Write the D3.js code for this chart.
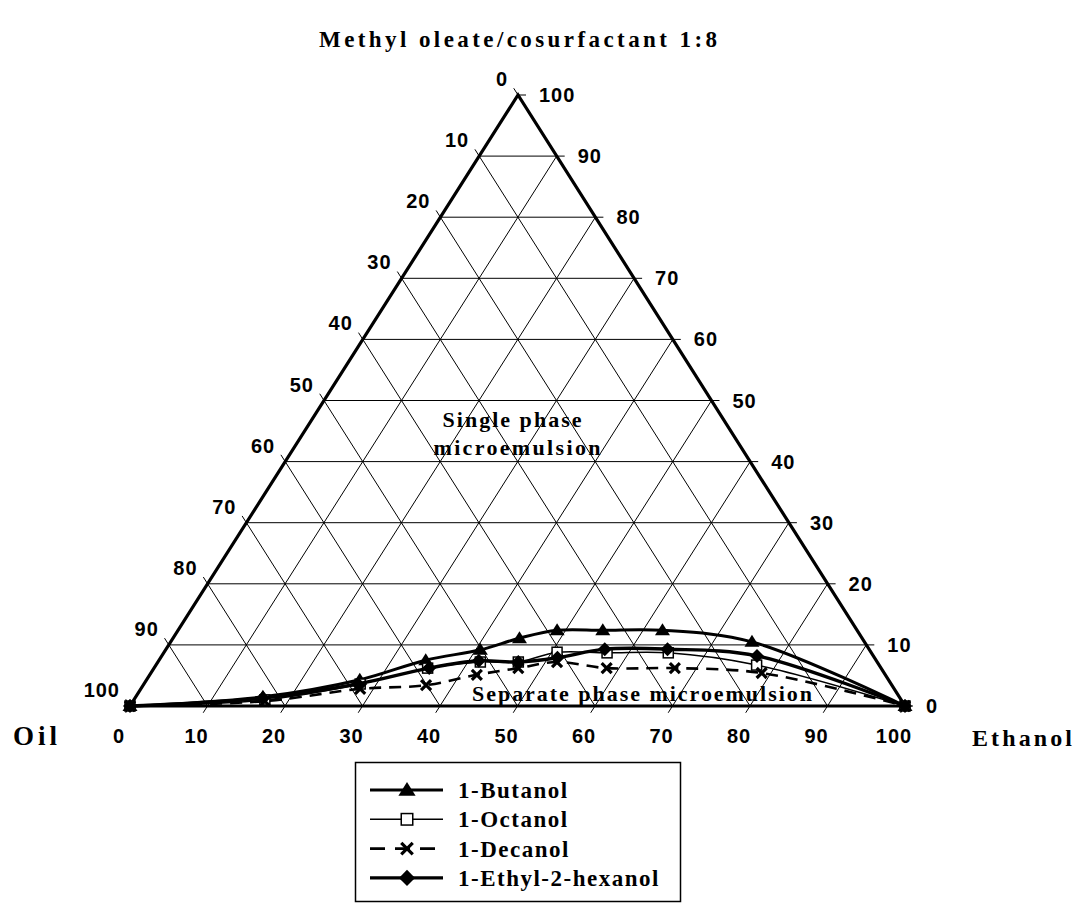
<!DOCTYPE html>
<html>
<head>
<title>Ternary phase diagram</title>
<script src="https://d3js.org/d3.v7.min.js"></script>
<style>
body { margin: 0; background: #fff; }
</style>
</head>
<body>
<div id="chart"></div>
<script>
// compositions: ethanol %, surfactant % (oil = rest)
var butanolEth = [0, 16.4, 27.5, 34.4, 40.6, 44.7, 48.9, 54.8, 62.5, 75.0, 100];
var butanolSurf = [0, 1.5, 4.3, 7.5, 9.2, 11.1, 12.4, 12.4, 12.4, 10.5, 0];
var octanolEth = [0, 16.9, 27.9, 35.3, 41.6, 46.5, 50.7, 57.2, 65.1, 77.5, 100];
var octanolSurf = [0, 1.0, 3.6, 6.2, 7.2, 7.2, 8.8, 8.7, 8.7, 6.7, 0];
var decanolEth = [0, 17.0, 28.3, 36.5, 42.2, 47.0, 51.5, 58.4, 67.2, 78.8, 100];
var decanolSurf = [0, 0.8, 2.8, 3.4, 5.1, 6.2, 7.2, 6.2, 6.2, 5.4, 0];
var ethylhexEth = [0, 16.5, 27.6, 35.5, 41.3, 46.5, 51.2, 56.6, 64.7, 76.8, 100];
var ethylhexSurf = [0, 1.3, 3.6, 6.2, 7.4, 7.2, 7.9, 9.3, 9.3, 8.2, 0];

var seriesNames = ["1-Butanol", "1-Octanol", "1-Decanol", "1-Ethyl-2-hexanol"];
var ticks = [0, 10, 20, 30, 40, 50, 60, 70, 80, 90, 100];

var W = 1078, H = 903;
var baseL = 130, baseR = 905, apexX = 518, baseY = 706, apexY = 95;

var svg = d3.select("#chart").append("svg").attr("width", W).attr("height", H);

// ethanol runs along the base, surfactant lifts the point and shifts it toward the apex
var eScale = d3.scaleLinear().domain([0, 100]).range([baseL, baseR]);
var sShift = d3.scaleLinear().domain([0, 100]).range([0, apexX - baseL]);
var sScale = d3.scaleLinear().domain([0, 100]).range([baseY, apexY]);

function px(e, s) { return eScale(e) + sShift(s); }
function py(e, s) { return sScale(s); }

var grid = svg.append("g").attr("stroke", "#000").attr("stroke-width", 1).attr("fill", "none");
var tk = 8;
var rdx = apexX - baseR, rdy = apexY - baseY;
var lenR = Math.sqrt(rdx * rdx + rdy * rdy);
var dirOil = [rdx / lenR, rdy / lenR];
var ldx = apexX - baseL, ldy = apexY - baseY;
var lenL = Math.sqrt(ldx * ldx + ldy * ldy);
var dirEth = [ldx / lenL, ldy / lenL];

ticks.forEach(function(t) {
  // constant surfactant: horizontal, tick out past right side
  grid.append("line")
    .attr("x1", px(0, t)).attr("y1", py(0, t))
    .attr("x2", px(100 - t, t) + tk).attr("y2", py(100 - t, t));
  // constant ethanol: parallel to left side, tick below base
  grid.append("line")
    .attr("x1", px(t, 0) - dirEth[0] * tk).attr("y1", py(t, 0) - dirEth[1] * tk)
    .attr("x2", px(t, 100 - t)).attr("y2", py(t, 100 - t));
  // constant oil: parallel to right side, tick out past left side
  grid.append("line")
    .attr("x1", px(100 - t, 0)).attr("y1", py(100 - t, 0))
    .attr("x2", px(0, 100 - t) + dirOil[0] * tk).attr("y2", py(0, 100 - t) + dirOil[1] * tk);
});

svg.append("path")
  .attr("d", "M" + px(0, 0) + "," + py(0, 0) + "L" + px(100, 0) + "," + py(100, 0) + "L" + px(0, 100) + "," + py(0, 100) + "Z")
  .attr("fill", "none").attr("stroke", "#000").attr("stroke-width", 3.2).attr("stroke-linejoin", "miter");

var tickFont = "'Liberation Sans', Arial, sans-serif";
var serif = "'Liberation Serif', 'Times New Roman', serif";

function tickText(sel) {
  return sel.style("font-family", tickFont).style("font-weight", "bold")
    .style("font-size", "20px").style("letter-spacing", "1px");
}

// left labels: oil
tickText(svg.selectAll(".lt").data(ticks).enter().append("text"))
  .attr("x", function(d) { return px(0, 100 - d) - 10; })
  .attr("y", function(d) { return py(0, 100 - d) - 9; })
  .attr("text-anchor", "end")
  .text(function(d) { return d; });

// right labels: surfactant
tickText(svg.selectAll(".rt").data(ticks).enter().append("text"))
  .attr("x", function(d) { return px(100 - d, d) + 21; })
  .attr("y", function(d) { return py(100 - d, d) + 7; })
  .attr("text-anchor", "start")
  .text(function(d) { return d; });

// bottom labels: ethanol
tickText(svg.selectAll(".bt").data(ticks).enter().append("text"))
  .attr("x", function(d) { return px(d, 0) - 11; })
  .attr("y", baseY + 37)
  .attr("text-anchor", "middle")
  .text(function(d) { return d; });

function serifText(x, y, size, len, str, anchor) {
  var t = svg.append("text").attr("x", x).attr("y", y).attr("text-anchor", anchor || "middle")
    .style("font-family", serif).style("font-weight", "bold").style("font-size", size + "px")
    .text(str);
  if (len) t.attr("textLength", len).attr("lengthAdjust", "spacing");
  return t;
}

serifText(518, 47, 23, 398, "Methyl oleate/cosurfactant 1:8");
serifText(13, 745, 27, 44, "Oil", "start");
serifText(972, 746, 24, 100, "Ethanol", "start");
serifText(512, 427, 22, 139, "Single phase");
serifText(517, 455, 22, 167, "microemulsion");
serifText(642, 701, 22, 340, "Separate phase microemulsion");

var series = [
  { name: seriesNames[0], eth: butanolEth, surf: butanolSurf, width: 3, dash: null, marker: "tri" },
  { name: seriesNames[1], eth: octanolEth, surf: octanolSurf, width: 1.5, dash: null, marker: "sq" },
  { name: seriesNames[2], eth: decanolEth, surf: decanolSurf, width: 2.6, dash: "12,8", marker: "x" },
  { name: seriesNames[3], eth: ethylhexEth, surf: ethylhexSurf, width: 3.4, dash: null, marker: "dia" }
];

var line = d3.line().curve(d3.curveCatmullRom.alpha(0.5));

function drawMarker(g, type, x, y, k) {
  if (type === "tri") {
    g.append("path").attr("d", "M" + x + "," + (y - 7 * k) + "L" + (x + 7.5 * k) + "," + (y + 5 * k) + "L" + (x - 7.5 * k) + "," + (y + 5 * k) + "Z")
      .attr("fill", "#000");
  } else if (type === "sq") {
    var h = 5 * k;
    g.append("rect").attr("x", x - h).attr("y", y - h).attr("width", 2 * h).attr("height", 2 * h)
      .attr("fill", "#fff").attr("stroke", "#000").attr("stroke-width", 1.5);
  } else if (type === "x") {
    var c = 5 * k;
    g.append("path").attr("d", "M" + (x - c) + "," + (y - c) + "L" + (x + c) + "," + (y + c) + "M" + (x + c) + "," + (y - c) + "L" + (x - c) + "," + (y + c))
      .attr("stroke", "#000").attr("stroke-width", 3.2).attr("fill", "none");
  } else {
    g.append("path").attr("d", "M" + x + "," + (y - 7 * k) + "L" + (x + 7 * k) + "," + y + "L" + x + "," + (y + 7 * k) + "L" + (x - 7 * k) + "," + y + "Z")
      .attr("fill", "#000");
  }
}

series.forEach(function(s) {
  var pts = s.eth.map(function(e, i) { return [px(e, s.surf[i]), py(e, s.surf[i])]; });
  svg.append("path").attr("d", line(pts))
    .attr("fill", "none").attr("stroke", "#000").attr("stroke-width", s.width)
    .attr("stroke-dasharray", s.dash);
  var g = svg.append("g");
  pts.forEach(function(p) { drawMarker(g, s.marker, p[0], p[1], 1); });
});

// legend
var lg = svg.append("g");
lg.append("rect").attr("x", 355.5).attr("y", 762.5).attr("width", 325).attr("height", 139)
  .attr("fill", "#fff").attr("stroke", "#000").attr("stroke-width", 1.5);
series.forEach(function(s, i) {
  var y = 790 + i * 29.3;
  lg.append("line").attr("x1", 370).attr("x2", 443).attr("y1", y).attr("y2", y)
    .attr("stroke", "#000").attr("stroke-width", s.width).attr("stroke-dasharray", s.dash ? "15,10" : null);
  drawMarker(lg, s.marker, 407, y, 1.15);
  lg.append("text").attr("x", 458).attr("y", y + 8)
    .style("font-family", serif).style("font-weight", "bold").style("font-size", "23px")
    .style("letter-spacing", "1.5px")
    .text(s.name);
});
</script>
</body>
</html>
